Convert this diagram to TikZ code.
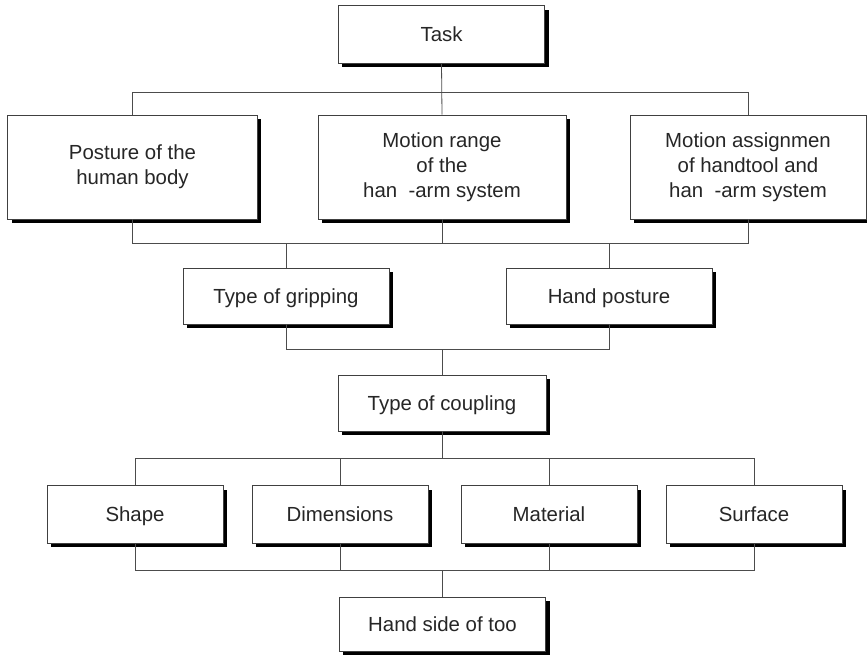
\documentclass[tikz,border=0pt]{standalone}
\usepackage{fontspec}
\setmainfont{Liberation Sans}
\usetikzlibrary{positioning,shadows}

\begin{document}
\begin{tikzpicture}[x=0.75pt,y=-0.75pt,
    blk/.style={draw=black!75,fill=white,line width=0.6pt,inner sep=0pt,align=center,
        font=\fontsize{15.3}{18.75}\selectfont,text=black!85,
        drop shadow={shadow xshift=3pt,shadow yshift=-3pt,opacity=1,fill=black}},
    one/.style={blk,text height=10.5pt,text depth=0pt},
    ln/.style={draw=black!70,line width=0.6pt},
]
\useasboundingbox (0,0) rectangle (867,654);
% level 0
\node[one,minimum width=155pt,minimum height=43pt] (task) at (441.5,34.5) {Task};
% level 1
\node[blk,minimum width=187pt,minimum height=78pt] (post)  at (132.5,167) {Posture of the\\human body};
\node[blk,minimum width=186pt,minimum height=78pt] (range) at (442,167)   {Motion range\\of the\\han\phantom{d}-arm system};
\node[blk,minimum width=177pt,minimum height=78pt] (mass)  at (748,167)   {Motion assignmen\\of handtool and\\han\phantom{d}-arm system};
% level 2
\node[one,minimum width=154.5pt,minimum height=42pt] (grip) at (286,296) {Type of gripping};
\node[one,minimum width=154.5pt,minimum height=42pt] (hpos) at (609,296) {Hand posture};
% level 3
\node[one,minimum width=156pt,minimum height=42pt] (coup) at (442,403) {Type of coupling};
% level 4
\node[one,minimum width=132pt,minimum height=43pt] (shp)  at (135,514.5) {Shape};
\node[one,minimum width=132pt,minimum height=43pt] (dim)  at (340,514.5) {Dimensions};
\node[one,minimum width=132pt,minimum height=43pt] (mat)  at (549,514.5) {Material};
\node[one,minimum width=132pt,minimum height=43pt] (surf) at (754,514.5) {Surface};
% level 5
\node[one,minimum width=155pt,minimum height=41pt] (hside) at (442.5,624.5) {Hand side of too};

% bus levels
\coordinate (b1) at (0,92);
\coordinate (b2) at (0,243);
\coordinate (b3) at (0,349);
\coordinate (b4) at (0,458);
\coordinate (b5) at (0,570);

\draw[ln] (post.north) -- (post.north |- b1) -- (mass.north |- b1) -- (mass.north);
\draw[ln] (task.south) -- (range.north);
\draw[ln] (post.south) -- (post.south |- b2) -- (mass.south |- b2) -- (mass.south);
\draw[ln] (range.south) -- (range.south |- b2);
\draw[ln] (grip.north) -- (grip.north |- b2);
\draw[ln] (hpos.north) -- (hpos.north |- b2);
\draw[ln] (grip.south) -- (grip.south |- b3) -- (hpos.south |- b3) -- (hpos.south);
\draw[ln] (coup.north) -- (coup.north |- b3);
\draw[ln] (shp.north) -- (shp.north |- b4) -- (surf.north |- b4) -- (surf.north);
\draw[ln] (shp.south) -- (shp.south |- b5) -- (surf.south |- b5) -- (surf.south);
\foreach \n in {dim,mat} {
  \draw[ln] (\n.north) -- (\n.north |- b4);
  \draw[ln] (\n.south) -- (\n.south |- b5);
}
\draw[ln] (coup.south) -- (coup.south |- b4);
\draw[ln] (hside.north) -- (hside.north |- b5);
\end{tikzpicture}
\end{document}
